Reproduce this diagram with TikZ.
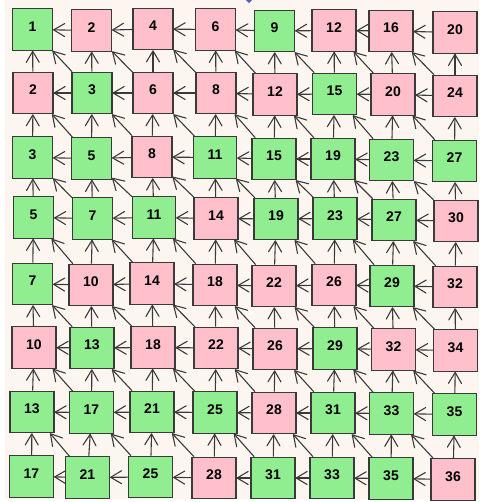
\documentclass[tikz,border=0pt]{standalone}
\usepackage{fontspec}
\setmainfont{Liberation Sans}
\definecolor{bg}{HTML}{FDF6F0}
\definecolor{gr}{HTML}{90EE90}
\definecolor{pk}{HTML}{FFC0CB}
\definecolor{ln}{HTML}{3A3A3A}
\definecolor{bluemark}{HTML}{5A5AC8}
\pgfarrowsdeclare{mybarb}{mybarb}
 {\pgfarrowsleftextend{-11pt}\pgfarrowsrightextend{0.6pt}}
 {\pgfsetdash{}{0pt}\pgfsetroundjoin\pgfsetroundcap
  \pgfpathmoveto{\pgfpoint{-11pt}{6.5pt}}
  \pgfpathlineto{\pgfpoint{0pt}{0pt}}
  \pgfpathlineto{\pgfpoint{-11pt}{-6.5pt}}
  \pgfusepathqstroke}
\begin{document}
\begin{tikzpicture}[x=1pt,y=-1pt,
  cell/.style={draw=ln, line width=1.1pt, rectangle, minimum width=40pt,
    minimum height=41.5pt, inner xsep=14.2pt, text height=10pt, text depth=6.5pt,
    font=\fontsize{14}{14}\selectfont\bfseries},
  link/.style={draw=ln, line width=1.1pt, -mybarb}]
\useasboundingbox (0,0) rectangle (479,502);
\fill[bg] (5,0) rectangle (479,499);
\fill[bluemark] (249,-5) -- (253,-1) -- (249,3.2) -- (245,-1) -- cycle;
\foreach \r/\c/\x/\y/\t/\s in {
 1/1/32.5/29.5/1/gr, 1/2/91.5/30.5/2/pk, 1/3/153/29/4/pk, 1/4/215.5/29.5/6/pk,
 1/5/274.5/31/9/gr, 1/6/334/30.5/12/pk, 1/7/391/31/16/pk, 1/8/455/32.5/20/pk,
 2/1/33/93/2/pk, 2/2/92/93/3/gr, 2/3/153/93/6/pk, 2/4/216/93/8/pk,
 2/5/275/94.5/12/pk, 2/6/334.5/94/15/gr, 2/7/393/94.5/20/pk, 2/8/455/96/24/pk,
 3/1/32.5/157.5/3/gr, 3/2/91.5/158.5/5/gr, 3/3/152/157/8/pk, 3/4/215/157.5/11/gr,
 3/5/274/159/15/gr, 3/6/333/159/19/gr, 3/7/391.5/160/23/gr, 3/8/454.5/161/27/gr,
 4/1/33.5/217.5/5/gr, 4/2/92.5/218.5/7/gr, 4/3/154/217.5/11/gr, 4/4/216/218.5/14/pk,
 4/5/276/219/19/gr, 4/6/335/218.5/23/gr, 4/7/394/220/27/gr, 4/8/456/221/30/pk,
 5/1/32.5/284/7/gr, 5/2/91/285/10/pk, 5/3/152/283.5/14/pk, 5/4/215/285/18/pk,
 5/5/274/286/22/pk, 5/6/334/285/26/pk, 5/7/392/286/29/gr, 5/8/455/287/32/pk,
 6/1/34/347.5/10/pk, 6/2/92/348/13/gr, 6/3/153/347.5/18/pk, 6/4/216/348/22/pk,
 6/5/275/349/26/pk, 6/6/335/348.5/29/gr, 6/7/393.5/349.5/32/pk, 6/8/455.5/350.5/34/pk,
 7/1/32/412/13/gr, 7/2/91.5/412.5/17/gr, 7/3/152/412/21/gr, 7/4/215/412.5/25/gr,
 7/5/274/413/28/pk, 7/6/333/413/31/gr, 7/7/391.5/413.5/33/gr, 7/8/454.5/414.5/35/gr,
 8/1/31.5/476.5/17/gr, 8/2/87.5/477.5/21/gr, 8/3/150.5/477/25/gr, 8/4/214/478/28/pk,
 8/5/273/478/31/gr, 8/6/332/478/33/gr, 8/7/391/478.5/35/gr, 8/8/453/479.5/36/pk}
 {\node[cell, fill=\s] (n-\r-\c) at (\x,\y) {\t};}
% left arrows
\foreach \r in {1,...,8} \foreach \c in {2,...,8} {
  \pgfmathtruncatemacro\cl{\c-1}
  \draw[link] (n-\r-\c) -- (n-\r-\cl);}
% up arrows
\foreach \r in {2,...,8} \foreach \c in {1,...,8} {
  \pgfmathtruncatemacro\ru{\r-1}
  \draw[link] (n-\r-\c) -- (n-\ru-\c);}
% diagonal arrows
\foreach \r in {2,...,8} \foreach \c in {2,...,8} {
  \pgfmathtruncatemacro\ru{\r-1}
  \pgfmathtruncatemacro\cl{\c-1}
  \draw[link] (n-\r-\c) -- (n-\ru-\cl);}
\end{tikzpicture}
\end{document}
